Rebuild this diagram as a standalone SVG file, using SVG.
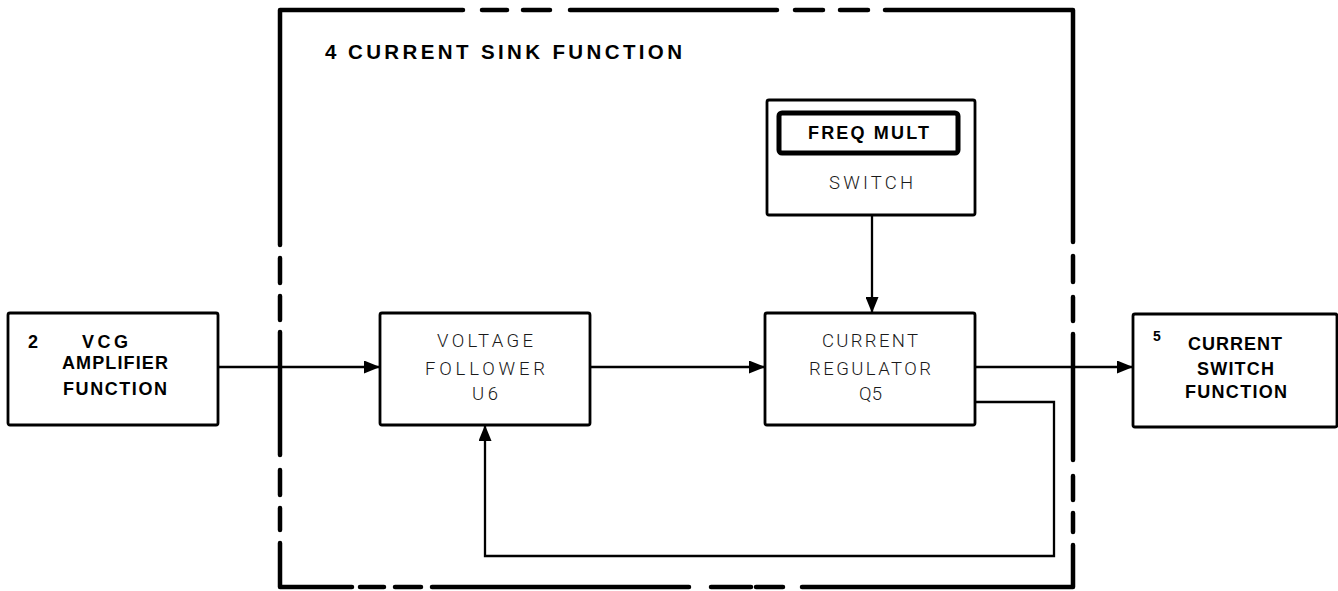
<svg xmlns="http://www.w3.org/2000/svg" width="1338" height="591" viewBox="0 0 1338 591">
<style>
.box{fill:#fff;stroke:#000;stroke-width:2.8}
.thick{fill:#fff;stroke:#000;stroke-width:5}
.dash{fill:none;stroke:#000;stroke-width:4.5;stroke-linecap:round;stroke-linejoin:round}
.wire{fill:none;stroke:#000;stroke-width:2.3}
.b{font-family:"Liberation Sans",Arial,sans-serif;font-weight:bold;font-size:18px;fill:#000}
.l{font-family:Roboto,"Liberation Sans",sans-serif;font-weight:300;font-size:18.5px;fill:#1a1a1a}
</style>
<defs>
<marker id="ah" markerWidth="16" markerHeight="13" refX="16" refY="6.5" orient="auto" markerUnits="userSpaceOnUse">
<path d="M0,0 L16,6.5 L0,13 Z" fill="#000"/>
</marker>
</defs>
<g id="sink-boundary">
<path class="dash" d="M280,245 V10 H463 M482,10 H507 M523,10 H550 M570,10 H777 M795,10 H823 M840,10 H868 M885,10 H1073 V242"/>
<path class="dash" d="M1073,256 V282 M1073,297 V321 M1073,334 V460 M1073,476 V500 M1073,513 V532 M1073,545 V587 H802 M783,587 H756 M751,587 H711 M689,587 H432 M421,587 H395 M384,587 H360 M352,587 H280 V543 M280,530 V508 M280,495 V470 M280,455 V332 M280,320 V296 M280,283 V258"/>
<text class="b" x="325" y="59" style="font-size:20.5px">4</text>
<text class="b" x="348" y="59" style="font-size:20.5px" textLength="334">CURRENT SINK FUNCTION</text>
</g>
<g id="connectors">
<line class="wire" x1="218" y1="367" x2="380" y2="367" marker-end="url(#ah)"/>
<line class="wire" x1="590" y1="367" x2="765" y2="367" marker-end="url(#ah)"/>
<line class="wire" x1="975" y1="367" x2="1133" y2="367" marker-end="url(#ah)"/>
<line class="wire" x1="872" y1="215" x2="872" y2="313" marker-end="url(#ah)"/>
<polyline class="wire" points="975,402 1054,402 1054,556 485,556 485,425" marker-end="url(#ah)"/>
</g>
<g id="vcg-amplifier">
<rect class="box" x="8" y="313" width="210" height="112" rx="2"/>
<text class="b" x="28" y="348">2</text>
<text class="b" x="82" y="348" textLength="46">VCG</text>
<text class="b" x="62" y="369" textLength="106">AMPLIFIER</text>
<text class="b" x="63" y="395" textLength="104">FUNCTION</text>
</g>
<g id="voltage-follower">
<rect class="box" x="380" y="313" width="210" height="112" rx="2"/>
<text class="l" x="437" y="347" textLength="96">VOLTAGE</text>
<text class="l" x="425" y="375" textLength="120">FOLLOWER</text>
<text class="l" x="472" y="400" textLength="26">U6</text>
</g>
<g id="current-regulator">
<rect class="box" x="765" y="313" width="210" height="112" rx="2"/>
<text class="l" x="822" y="347" textLength="96">CURRENT</text>
<text class="l" x="809" y="375" textLength="122">REGULATOR</text>
<text class="l" x="859" y="400" textLength="23">Q5</text>
</g>
<g id="freq-mult-switch">
<rect class="box" x="767" y="100" width="208" height="115" rx="2"/>
<rect class="thick" x="779" y="113" width="179" height="40" rx="3"/>
<text class="b" x="808" y="139" textLength="121">FREQ MULT</text>
<text class="l" x="829" y="189" textLength="84">SWITCH</text>
</g>
<g id="current-switch">
<rect class="box" x="1133" y="314" width="204" height="113" rx="2"/>
<text class="b" x="1153" y="341" style="font-size:14px">5</text>
<text class="b" x="1188" y="350" textLength="94">CURRENT</text>
<text class="b" x="1197" y="375" textLength="77">SWITCH</text>
<text class="b" x="1185" y="398" textLength="102">FUNCTION</text>
</g>
</svg>
